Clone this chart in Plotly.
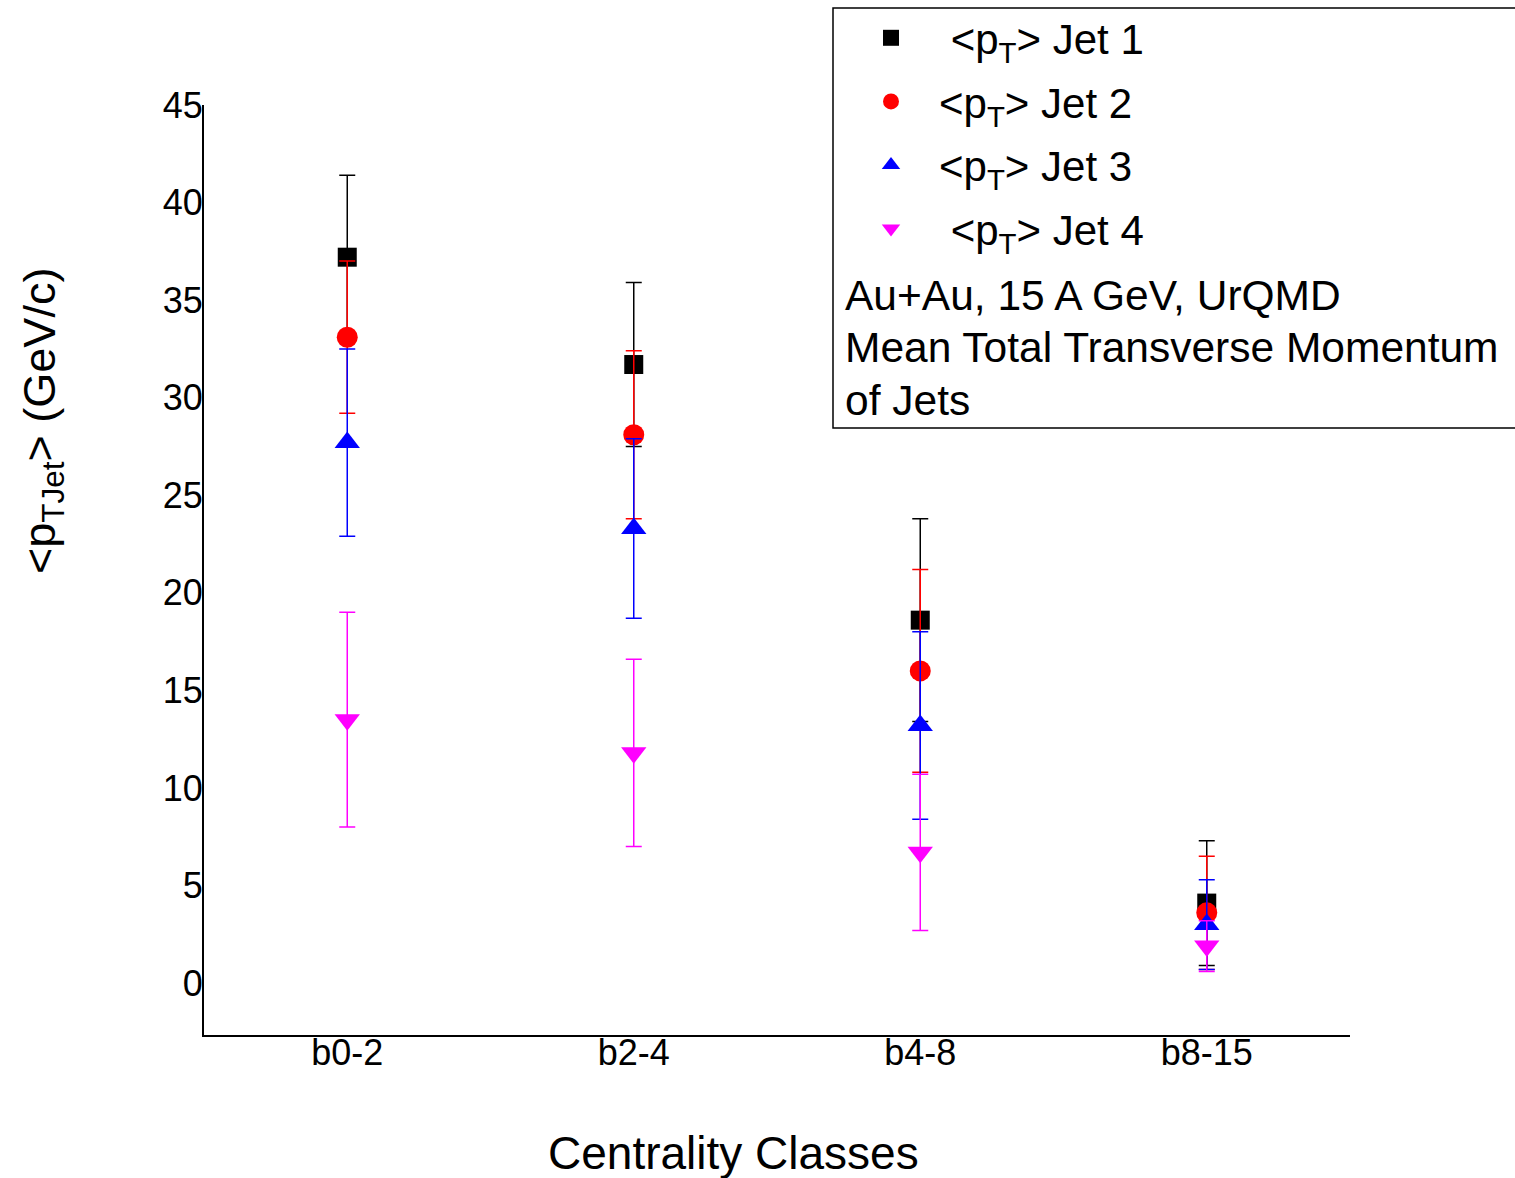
import plotly.graph_objects as go

categories = ["b0-2", "b2-4", "b4-8", "b8-15"]

jet1 = [37.2, 31.7, 18.6, 4.1]
jet1_err = [4.2, 4.2, 5.2, 3.2]
jet2 = [33.1, 28.1, 16.0, 3.6]
jet2_err = [3.9, 4.3, 5.2, 2.9]
jet3 = [27.7, 23.3, 13.2, 3.0]
jet3_err = [4.8, 4.6, 4.8, 2.3]
jet4 = [13.5, 11.8, 6.7, 1.9]
jet4_err = [5.5, 4.8, 4.0, 1.3]

series_names = ["\u00a0&lt;p<sub>T</sub>&gt; Jet 1", "&lt;p<sub>T</sub>&gt; Jet 2",
                "&lt;p<sub>T</sub>&gt; Jet 3", "\u00a0&lt;p<sub>T</sub>&gt; Jet 4"]
info_lines = ["Au+Au, 15 A GeV, UrQMD", "Mean Total Transverse Momentum", "of Jets"]

FONT = "Liberation Sans, Arial, sans-serif"

W, H = 1515, 1178
L, R, T, B = 204, 165, 105, 143
PW, PH = W - L - R, H - T - B


def px(x):
    return (x - L) / PW


def py(y):
    return (H - B - y) / PH


specs = [
    (jet1, jet1_err, "black", "square", 19),
    (jet2, jet2_err, "red", "circle", 21),
    (jet3, jet3_err, "blue", "triangle-up", 22),
    (jet4, jet4_err, "magenta", "triangle-down", 22),
]

fig = go.Figure()
for i, (vals, errs, col, sym, sz) in enumerate(specs):
    fig.add_trace(go.Scatter(
        x=categories, y=vals, mode="markers", name=series_names[i],
        legendgroup=f"g{i}",
        marker=dict(symbol=sym, size=sz, color=col, line=dict(width=0)),
        error_y=dict(type="data", array=errs, visible=True, color=col,
                     thickness=1.5, width=8),
    ))

fig.update_layout(
    width=W, height=H,
    margin=dict(l=L, r=R, t=T, b=B, autoexpand=False),
    paper_bgcolor="white", plot_bgcolor="white",
    font=dict(family=FONT, color="black"),
    showlegend=True,
    legend=dict(x=px(843), y=py(4), xanchor="left", yanchor="top",
                bgcolor="rgba(0,0,0,0)", borderwidth=0,
                font=dict(size=42, family=FONT), tracegroupgap=6,
                itemsizing="trace", itemwidth=86),
    xaxis=dict(type="category", range=[-0.5, 3.5], showline=True, linewidth=2,
               linecolor="black", showgrid=False, zeroline=False, ticks="",
               tickfont=dict(size=36, family=FONT), ticklabelstandoff=-15),
    yaxis=dict(range=[-2.66, 45], showline=True, linewidth=2, linecolor="black",
               showgrid=False, zeroline=False, ticks="", tickvals=list(range(0, 46, 5)),
               tickfont=dict(size=36, family=FONT), ticklabelstandoff=-8),
)

fig.add_shape(type="rect", xref="paper", yref="paper",
              x0=px(833), x1=px(1530), y0=py(428), y1=py(8),
              line=dict(color="black", width=1.5), fillcolor="rgba(0,0,0,0)")

for j, line in enumerate(info_lines):
    fig.add_annotation(text=line, xref="paper", yref="paper",
                       x=px(843), y=py(296 + 52 * j), xanchor="left", yanchor="middle",
                       showarrow=False, font=dict(size=42.5, family=FONT))

fig.add_annotation(text="Centrality Classes", xref="paper", yref="paper",
                   x=px(733), y=py(1153), xanchor="center", yanchor="middle",
                   showarrow=False, font=dict(size=46, family=FONT))
fig.add_annotation(text="&lt;p<sub>TJet</sub>&gt; (GeV/c)", xref="paper", yref="paper",
                   x=px(42), y=py(421), xanchor="center", yanchor="middle",
                   textangle=-90, showarrow=False, font=dict(size=45, family=FONT))

fig.write_html("out.html")
